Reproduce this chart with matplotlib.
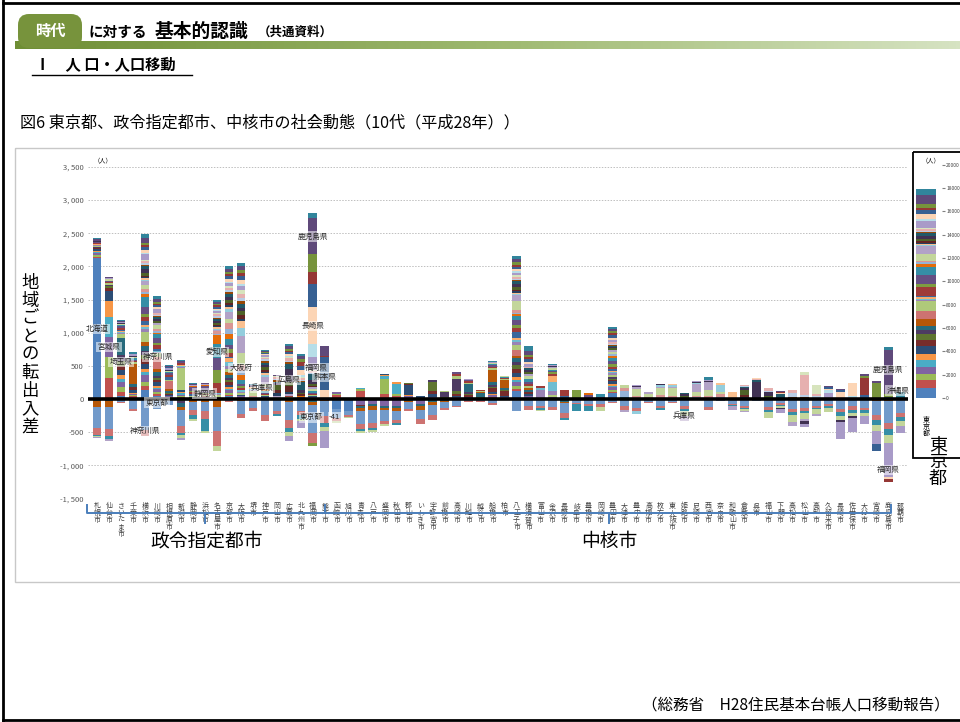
import numpy as np
import matplotlib
matplotlib.use("Agg")
import matplotlib.pyplot as plt
from matplotlib.patches import Rectangle, FancyBboxPatch
from matplotlib.colors import LinearSegmentedColormap

plt.rcParams['font.family'] = ['Noto Sans CJK JP', 'DejaVu Sans']

# 都道府県（積み上げの順番）
prefectures = ["北海道", "青森", "岩手", "宮城", "秋田", "山形", "福島", "茨城", "栃木", "群馬",
               "埼玉", "千葉", "東京", "神奈川", "新潟", "富山", "石川", "福井", "山梨", "長野",
               "岐阜", "静岡", "愛知", "三重", "滋賀", "京都", "大阪", "兵庫", "奈良", "和歌山",
               "鳥取", "島根", "岡山", "広島", "山口", "徳島", "香川", "愛媛", "高知", "福岡",
               "佐賀", "長崎", "熊本", "大分", "宮崎", "鹿児島", "沖縄"]

seirei = ["札幌市", "仙台市", "さいたま市", "千葉市", "横浜市", "川崎市", "相模原市", "新潟市",
          "静岡市", "浜松市", "名古屋市", "京都市", "大阪市", "堺市", "神戸市", "岡山市",
          "広島市", "北九州市", "福岡市", "熊本市"]
chukaku = ["函館市", "旭川市", "青森市", "八戸市", "盛岡市", "秋田市", "郡山市", "いわき市",
           "宇都宮市", "前橋市", "高崎市", "川越市", "越谷市", "船橋市", "柏市", "八王子市",
           "横須賀市", "富山市", "金沢市", "長野市", "岐阜市", "豊橋市", "岡崎市", "豊田市",
           "大津市", "豊中市", "高槻市", "枚方市", "東大阪市", "姫路市", "尼崎市", "西宮市",
           "奈良市", "和歌山市", "倉敷市", "呉市", "福山市", "下関市", "高松市", "松山市",
           "高知市", "久留米市", "長崎市", "佐世保市", "大分市", "宮崎市", "鹿児島市", "那覇市"]
cities = seirei + chukaku

# 転入超過（都道府県番号: 人）
pos_segments = [
    {0: 2120, 1: 25, 2: 20, 3: 35, 4: 20, 5: 15, 6: 20, 7: 15, 8: 10, 9: 15, 14: 20, 15: 15, 17: 15, 19: 15, 21: 15, 33: 15, 45: 25, 46: 15},
    {1: 320, 2: 315, 3: 300, 4: 300, 5: 250, 6: 150, 7: 40, 8: 25, 9: 15, 14: 30, 15: 10, 19: 15, 21: 15, 26: 20, 33: 10, 39: 15, 45: 15},
    {0: 40, 1: 60, 2: 80, 3: 70, 4: 50, 5: 60, 6: 70, 7: 60, 8: 80, 9: 90, 10: 260, 14: 60, 15: 20, 16: 15, 17: 10, 18: 15, 19: 30, 21: 30, 22: 15, 26: 15, 33: 10, 39: 15, 45: 15, 46: 15},
    {0: 20, 1: 20, 2: 15, 3: 20, 5: 15, 6: 40, 7: 50, 10: 40, 11: 300, 14: 30, 19: 20, 21: 20, 22: 25, 26: 25, 33: 15, 39: 25, 46: 30},
    {0: 140, 1: 60, 2: 60, 3: 100, 4: 40, 5: 50, 6: 80, 7: 70, 8: 60, 9: 60, 10: 80, 11: 60, 14: 150, 15: 40, 16: 40, 17: 30, 18: 50, 19: 60, 20: 50, 21: 100, 22: 160, 23: 40, 24: 30, 25: 50, 26: 60, 27: 60, 28: 20, 29: 20, 30: 20, 31: 20, 32: 40, 33: 60, 34: 40, 35: 20, 36: 30, 37: 30, 38: 20, 39: 80, 40: 20, 41: 40, 42: 50, 43: 30, 44: 40, 45: 70, 46: 60},
    {0: 40, 1: 30, 2: 30, 3: 50, 4: 20, 5: 30, 6: 50, 7: 40, 8: 30, 9: 30, 10: 60, 11: 40, 13: 180, 14: 60, 15: 20, 16: 20, 18: 30, 19: 50, 20: 30, 21: 80, 22: 60, 23: 20, 24: 20, 25: 30, 26: 60, 27: 40, 32: 20, 33: 40, 34: 20, 35: 20, 36: 20, 37: 20, 39: 60, 41: 30, 42: 30, 43: 20, 44: 30, 45: 50, 46: 50},
    {0: 15, 2: 10, 3: 20, 6: 15, 7: 20, 8: 15, 10: 30, 11: 25, 13: 120, 14: 20, 18: 40, 19: 25, 21: 30, 22: 20, 26: 20, 33: 15, 39: 20, 42: 15, 45: 20, 46: 15},
    {0: 10, 1: 15, 2: 15, 3: 25, 4: 20, 5: 20, 6: 30, 14: 330, 15: 20, 16: 15, 17: 10, 19: 30, 21: 10, 33: 10, 45: 10, 46: 15},
    {0: 10, 3: 10, 6: 10, 14: 10, 15: 10, 18: 25, 19: 30, 20: 20, 21: 60, 23: 15, 27: 15, 45: 15, 46: 15},
    {0: 10, 3: 15, 6: 10, 7: 10, 14: 10, 19: 20, 20: 15, 21: 100, 23: 20, 27: 10, 33: 10, 45: 10, 46: 5},
    {0: 15, 3: 10, 6: 10, 14: 20, 15: 15, 16: 15, 19: 150, 20: 200, 21: 175, 22: 225, 23: 125, 24: 20, 25: 40, 27: 20, 28: 20, 29: 20, 30: 15, 31: 15, 32: 30, 33: 40, 34: 30, 35: 15, 36: 25, 37: 25, 38: 15, 39: 30, 40: 15, 41: 25, 42: 30, 43: 20, 44: 25, 45: 30, 46: 30},
    {0: 40, 1: 25, 2: 25, 3: 40, 4: 20, 5: 25, 6: 40, 7: 40, 8: 30, 9: 30, 10: 50, 11: 40, 14: 50, 15: 40, 16: 60, 17: 60, 18: 20, 19: 60, 20: 60, 21: 55, 22: 90, 23: 80, 24: 70, 25: 90, 26: 70, 27: 100, 28: 40, 29: 40, 30: 30, 31: 30, 32: 50, 33: 40, 34: 40, 35: 30, 36: 30, 37: 40, 38: 20, 39: 50, 40: 20, 41: 40, 42: 40, 43: 30, 44: 30, 45: 50, 46: 50},
    {0: 20, 3: 20, 6: 20, 14: 30, 15: 20, 16: 20, 19: 30, 20: 30, 21: 40, 22: 50, 23: 80, 24: 60, 25: 90, 26: 190, 27: 250, 28: 120, 29: 110, 30: 30, 31: 60, 32: 50, 33: 50, 34: 60, 35: 50, 36: 50, 37: 50, 38: 60, 39: 60, 40: 40, 41: 60, 42: 50, 43: 50, 44: 40, 45: 70, 46: 35},
    {0: 5, 22: 10, 24: 10, 25: 15, 26: 80, 27: 20, 28: 15, 29: 25, 33: 10, 39: 10, 45: 10, 46: 10},
    {0: 15, 3: 15, 6: 15, 14: 15, 19: 15, 21: 20, 22: 30, 23: 20, 24: 20, 25: 20, 26: 40, 27: 110, 28: 20, 29: 30, 30: 25, 31: 25, 32: 40, 33: 40, 34: 30, 35: 30, 36: 20, 37: 25, 38: 15, 39: 30, 41: 15, 42: 15, 44: 10, 45: 20, 46: 20},
    {0: 10, 26: 10, 27: 20, 29: 10, 30: 40, 31: 40, 32: 80, 33: 30, 34: 20, 35: 20, 36: 25, 37: 20, 38: 15, 41: 10, 45: 10},
    {0: 10, 3: 10, 14: 10, 19: 10, 21: 10, 27: 20, 30: 40, 31: 80, 32: 60, 33: 200, 34: 80, 35: 20, 36: 25, 37: 40, 38: 20, 40: 10, 41: 30, 42: 30, 43: 25, 44: 25, 45: 40, 46: 30},
    {0: 10, 14: 10, 21: 10, 23: 10, 27: 10, 31: 20, 32: 20, 33: 40, 34: 120, 35: 15, 36: 20, 37: 30, 38: 20, 40: 30, 41: 70, 42: 60, 43: 60, 44: 40, 45: 50, 46: 30},
    {0: 20, 3: 15, 6: 10, 14: 15, 19: 10, 21: 15, 22: 30, 26: 40, 27: 25, 31: 20, 32: 30, 33: 60, 34: 80, 36: 20, 37: 25, 38: 20, 39: 200, 40: 200, 41: 550, 42: 350, 43: 175, 44: 275, 45: 550, 46: 75},
    {27: 10, 41: 125, 42: 500, 43: 10, 44: 10, 45: 140},
    {1: 60, 2: 20, 3: 20},
    {2: 5, 3: 5},
    {0: 10, 1: 110, 2: 30, 4: 15},
    {2: 10},
    {0: 10, 1: 60, 2: 230, 4: 40, 5: 20, 6: 20},
    {0: 10, 1: 30, 2: 30, 4: 150, 5: 30},
    {0: 10, 3: 30, 5: 20, 6: 150, 7: 15, 8: 15},
    {6: 40, 7: 10},
    {0: 10, 3: 20, 6: 40, 7: 50, 8: 140, 9: 30},
    {6: 10, 8: 15, 9: 80, 14: 10, 19: 10},
    {0: 15, 3: 15, 6: 20, 7: 30, 8: 40, 9: 180, 14: 40, 19: 40, 21: 20},
    {0: 10, 3: 10, 6: 15, 7: 20, 8: 20, 9: 30, 10: 120, 14: 20, 19: 20, 21: 15, 26: 10, 39: 10},
    {7: 20, 8: 15, 10: 60, 11: 15, 14: 10, 19: 10},
    {0: 15, 1: 10, 2: 10, 3: 20, 5: 15, 6: 30, 7: 60, 8: 25, 9: 20, 10: 50, 11: 180, 14: 30, 19: 20, 21: 20, 22: 15, 26: 15, 39: 15, 46: 15},
    {0: 10, 3: 15, 6: 20, 7: 70, 8: 15, 10: 40, 11: 120, 14: 15, 19: 15, 22: 10, 26: 10, 46: 10},
    {0: 115, 1: 40, 2: 40, 3: 60, 4: 30, 5: 40, 6: 70, 7: 60, 8: 50, 9: 50, 10: 60, 11: 40, 13: 80, 14: 80, 15: 40, 16: 40, 17: 30, 18: 80, 19: 70, 20: 40, 21: 70, 22: 60, 23: 30, 24: 20, 25: 40, 26: 150, 27: 80, 28: 20, 29: 20, 30: 20, 31: 20, 32: 40, 33: 50, 34: 40, 35: 20, 36: 20, 37: 30, 38: 20, 39: 40, 40: 20, 41: 30, 42: 40, 43: 30, 44: 40, 45: 50, 46: 40},
    {0: 30, 3: 20, 6: 25, 7: 25, 10: 30, 11: 30, 14: 30, 19: 30, 21: 40, 22: 40, 26: 50, 27: 30, 32: 20, 33: 30, 34: 30, 37: 20, 39: 50, 41: 30, 42: 40, 43: 30, 44: 40, 45: 60, 46: 70},
    {14: 20, 15: 120, 16: 30, 19: 20},
    {0: 15, 3: 15, 14: 30, 15: 60, 16: 130, 17: 100, 19: 30, 20: 20, 21: 20, 22: 20, 26: 20, 27: 15, 33: 15, 39: 15, 46: 25},
    {14: 20, 18: 30, 19: 80},
    {19: 20, 20: 120},
    {21: 60, 23: 30},
    {21: 35, 22: 40},
    {0: 85, 1: 20, 2: 30, 3: 40, 4: 20, 5: 30, 6: 40, 7: 20, 8: 20, 9: 20, 14: 40, 15: 20, 16: 20, 17: 20, 18: 20, 19: 40, 20: 40, 21: 50, 22: 40, 23: 40, 24: 20, 26: 30, 27: 30, 31: 10, 32: 30, 33: 15, 34: 15, 35: 10, 36: 20, 37: 20, 39: 40, 41: 25, 42: 40, 43: 30, 44: 30, 45: 40, 46: 20},
    {20: 15, 22: 20, 24: 80, 25: 50, 26: 40},
    {22: 20, 25: 30, 26: 100, 27: 30, 33: 15, 39: 20},
    {25: 30, 26: 50, 27: 30},
    {25: 60, 26: 100, 27: 20, 28: 25, 33: 20},
    {24: 20, 25: 30, 26: 110, 27: 20, 28: 25, 29: 20},
    {30: 15, 32: 35, 33: 20, 34: 15},
    {22: 15, 24: 15, 25: 20, 26: 60, 27: 120, 28: 15, 33: 15, 39: 15},
    {22: 20, 25: 30, 26: 80, 27: 120, 33: 20, 39: 20, 46: 40},
    {22: 15, 24: 15, 25: 50, 26: 30, 28: 100, 29: 30},
    {26: 20, 29: 90},
    {30: 30, 31: 30, 32: 80, 33: 25, 34: 20, 36: 15, 37: 15},
    {33: 250, 34: 30, 37: 20, 41: 15},
    {32: 40, 33: 60, 36: 25, 37: 40},
    {34: 70, 41: 15, 42: 10, 43: 15, 45: 15},
    {35: 30, 36: 60, 37: 40},
    {35: 25, 36: 40, 37: 300, 38: 40},
    {35: 20, 36: 30, 37: 25, 38: 140},
    {33: 15, 39: 80, 40: 40, 41: 20, 42: 20, 45: 15},
    {40: 20, 41: 90, 42: 20, 45: 20},
    {40: 40, 41: 200},
    {41: 20, 42: 40, 43: 250, 44: 40, 45: 25},
    {43: 15, 44: 220, 45: 40},
    {42: 35, 44: 40, 45: 665, 46: 40},
    {46: 100},
]

# 転出超過（都道府県番号: 人）
neg_segments = [
    {10: -30, 11: -90, 12: -320, 13: -100, 22: -25, 26: -15, 39: -10},
    {10: -30, 11: -90, 12: -340, 13: -100, 22: -50, 27: -30},
    {12: -40, 13: -25},
    {12: -150, 13: -35},
    {12: -465, 13: -95},
    {12: -150},
    {12: -90},
    {7: -15, 8: -20, 9: -30, 10: -60, 11: -40, 12: -250, 13: -100, 22: -30, 26: -40, 39: -40},
    {10: -20, 11: -20, 12: -120, 13: -90, 22: -60, 26: -20, 39: -10},
    {10: -20, 11: -30, 12: -130, 13: -120, 22: -180, 26: -30},
    {10: -15, 11: -100, 12: -375, 13: -225, 26: -75},
    {12: -30, 13: -10},
    {11: -30, 12: -200, 13: -60},
    {12: -130, 13: -60},
    {12: -250, 13: -90},
    {11: -20, 12: -160, 13: -50, 22: -35},
    {10: -20, 11: -30, 12: -270, 13: -120, 22: -60, 26: -60, 39: -80},
    {11: -20, 12: -170, 13: -60, 22: -50, 26: -40, 39: -100},
    {10: -50, 11: -40, 12: -420, 13: -150, 20: -45},
    {11: -30, 12: -230, 13: -100, 22: -60, 26: -70, 39: -250},
    {0: -150, 12: -140, 13: -40, 26: -30},
    {0: -180, 12: -70, 13: -20, 26: -15},
    {3: -90, 7: -20, 10: -30, 11: -40, 12: -200, 13: -70, 22: -30, 26: -30},
    {3: -80, 10: -30, 11: -50, 12: -200, 13: -80, 22: -35, 26: -30},
    {3: -100, 10: -30, 11: -40, 12: -160, 13: -55, 26: -30},
    {3: -110, 10: -30, 11: -40, 12: -140, 13: -50, 22: -20},
    {10: -25, 11: -20, 12: -110, 13: -35},
    {3: -70, 10: -40, 11: -50, 12: -150, 13: -65},
    {10: -50, 11: -40, 12: -160, 13: -65},
    {10: -30, 11: -15, 12: -90, 13: -30},
    {10: -20, 12: -80, 13: -20},
    {12: -30, 13: -10},
    {12: -30, 13: -10},
    {12: -60, 13: -25},
    {12: -20},
    {12: -190},
    {12: -110, 13: -60},
    {10: -20, 12: -90, 13: -30, 22: -30, 26: -20},
    {12: -120, 13: -50},
    {10: -40, 11: -20, 12: -150, 13: -80, 22: -35},
    {12: -60, 13: -20, 22: -100, 26: -10},
    {12: -70, 13: -30, 22: -90},
    {12: -80, 13: -40, 26: -70},
    {12: -40, 13: -20},
    {12: -110, 13: -50, 27: -40},
    {12: -130, 13: -50, 28: -45},
    {12: -40, 13: -20},
    {12: -100, 13: -40, 22: -20},
    {12: -40, 13: -20},
    {12: -110, 13: -40, 22: -25, 26: -90, 27: -70},
    {12: -20},
    {12: -120, 13: -40},
    {12: -25, 13: -10},
    {12: -70, 13: -25, 22: -15, 27: -50},
    {12: -100, 13: -30, 22: -20, 26: -30, 27: -20},
    {12: -25, 26: -10},
    {12: -120, 13: -40, 22: -40, 26: -85},
    {12: -60, 13: -25, 22: -25, 26: -20, 33: -20, 39: -60},
    {12: -150, 13: -50, 22: -40, 26: -110, 27: -60},
    {12: -140, 13: -50, 22: -30, 26: -90, 27: -25, 33: -40, 39: -50},
    {12: -100, 13: -30, 22: -20, 26: -80, 27: -30},
    {12: -80, 13: -30, 22: -30, 26: -55},
    {11: -20, 12: -130, 13: -50, 22: -60, 26: -60, 33: -30, 39: -260},
    {12: -110, 13: -50, 22: -50, 26: -50, 33: -30, 39: -210},
    {11: -20, 12: -110, 13: -40, 22: -40, 26: -50, 39: -125},
    {11: -30, 12: -220, 13: -70, 22: -70, 26: -90, 39: -200, 42: -105},
    {11: -30, 12: -330, 13: -90, 22: -90, 26: -120, 39: -520, 41: -30, 43: -50},
    {11: -20, 12: -200, 13: -60, 22: -50, 26: -80, 39: -110},
]

# 東京都（右側の小さいグラフ）
tokyo_values = [860, 715, 485, 600, 630, 485, 655, 570, 515, 345,
                285, 655, 0, 630, 860, 140, 90, 120, 140, 770,
                230, 770, 715, 230, 140, 90, 630, 655, 115, 85,
                115, 115, 170, 315, 200, 115, 115, 140, 85, 630,
                140, 430, 345, 170, 345, 800, 485]

yticks = list(range(-1500, 3501, 500))
tokyo_ticks = list(range(0, 20001, 2000))

# グラフ上の都道府県ラベル (文字, 都市の位置, 値)
annotations = [
    ("北海道", 0, 1055), ("宮城県", 1, 785), ("埼玉県", 2, 560), ("神奈川県", 5.1, 635),
    ("東京都", 5, -55), ("神奈川県", 4, -490), ("静岡県", 9, 80), ("愛知県", 10, 710),
    ("大阪府", 12, 470), ("兵庫県", 13.8, 170), ("広島県", 16, 290), ("鹿児島県", 18, 2450),
    ("長崎県", 18, 1100), ("福岡県", 18.3, 470), ("熊本県", 19, 335), ("東京都", 17.9, -280),
    ("-41", 19.8, -280), ("兵庫県", 49, -265), ("鹿児島県", 66, 440), ("沖縄県", 66.8, 125),
    ("福岡県", 66, -1075),
]

palette = ['#4F81BD', '#C0504D', '#9BBB59', '#8064A2', '#4BACC6', '#F79646',
           '#2C4D75', '#772C2A', '#5F7530', '#4D3B62', '#276A7C', '#B65708',
           '#729ACA', '#CD7371', '#AFC97A', '#9983B5', '#6FBDD1', '#F9AB6B',
           '#3A679C', '#9F3B38', '#7E9D40', '#664F83', '#358EA6', '#E46C0A',
           '#95B3D7', '#D99694', '#C3D69B', '#B2A2C7', '#93CDDD', '#FAC090',
           '#254061', '#632523', '#4F6228', '#403152', '#215968', '#974806',
           '#B9CDE5', '#E6B0AF', '#D7E4BD', '#A99BC8', '#B7DEE8', '#FCD5B5',
           '#376092', '#953735', '#77933C', '#5F497A', '#31859C']

W, H = 960, 722


def px(x0, y0, x1, y1):
    return [x0 / W, 1 - y1 / H, (x1 - x0) / W, (y1 - y0) / H]


fig = plt.figure(figsize=(W / 100, H / 100), dpi=100)

# 背景（ピクセル座標）
bg = fig.add_axes([0, 0, 1, 1], zorder=0)
bg.axis('off')
grad = LinearSegmentedColormap.from_list('g', ['#6E8E34', '#9DB86E', '#D6E3C2'])
bg.imshow(np.linspace(0, 1, 256)[None, :], extent=(15, 960, 49, 41), cmap=grad, aspect='auto')
bg.set_xlim(0, W)
bg.set_ylim(H, 0)

bg.add_patch(FancyBboxPatch((18, 14), 64, 34, boxstyle="round,pad=0,rounding_size=11",
                            fc='#77933C', ec='none'))
bg.text(50, 31, "時代", color='white', fontsize=11, fontweight='bold', ha='center', va='center')
bg.text(88, 32, "に対する", fontsize=10.5, fontweight='bold', va='center')
bg.text(155, 31, "基本的認識", fontsize=13.5, fontweight='bold', va='center')
bg.text(258, 32, "（共通資料）", fontsize=9, fontweight='bold', va='center')
bg.text(35, 65, "Ⅰ　人 口・人口移動", fontsize=11, fontweight='bold', va='center')
bg.plot([32, 192], [75, 75], color='black', lw=1)
bg.text(20, 123, "図6 東京都、政令指定都市、中核市の社会動態（10代（平成28年））", fontsize=11.6, va='center')
bg.text(950, 706, "（総務省　H28住民基本台帳人口移動報告）", fontsize=11.2, ha='right', va='center')

# 枠線
bg.plot([3, 3], [0, H], color='black', lw=2)
bg.plot([3, W], [3, 3], color='black', lw=2)
bg.plot([3, W], [720, 720], color='black', lw=2)
bg.add_patch(Rectangle((15, 148), 960, 434, fill=False, ec='#C8C8C8', lw=1))
bg.add_patch(Rectangle((912.5, 152), 60, 306, fill=False, ec='black', lw=1.3))

bg.text(30, 355, "\n".join("地域ごとの転出入差"), ha='center', va='center', fontsize=12.5, linespacing=1.0)
bg.text(103, 160, "（人）", fontsize=4.5, ha='center', va='center')
bg.text(931, 160, "（人）", fontsize=4.5, ha='center', va='center')
bg.text(938, 437, "東\n京\n都", fontsize=13, ha='center', va='top', linespacing=0.88)

# メインのグラフ
ax = fig.add_axes(px(88, 167, 908, 498.3), zorder=2)
ax.patch.set_alpha(0)
x = np.arange(len(cities))
pos = np.zeros((len(prefectures), len(cities)))
neg = np.zeros((len(prefectures), len(cities)))
for j, d in enumerate(pos_segments):
    for k, v in d.items():
        pos[k, j] = v
for j, d in enumerate(neg_segments):
    for k, v in d.items():
        neg[k, j] = v

bottom = np.zeros(len(cities))
for k in range(len(prefectures)):
    ax.bar(x, pos[k], width=0.72, bottom=bottom, color=palette[k], lw=0, zorder=2)
    bottom += pos[k]
bottom = np.zeros(len(cities))
for k in range(len(prefectures)):
    ax.bar(x, neg[k], width=0.72, bottom=bottom, color=palette[k], lw=0, zorder=2)
    bottom += neg[k]

for y in yticks:
    if y != 0:
        ax.axhline(y, color='#BFBFBF', lw=0.7, ls=(0, (1.5, 1.5)), zorder=0)
ax.axhline(0, color='black', lw=2.6, zorder=5)

ax.set_xlim(-0.75, -0.75 + 820 / 11.99)
ax.set_ylim(-1500, 3500)
ax.set_yticks(yticks)
ax.set_yticklabels([f"{v:,}".replace(",", ", ") for v in yticks])
ax.tick_params(axis='y', length=0, pad=3, labelsize=5.5, labelcolor='#595959')
ax.set_xticks(x)
ax.set_xticklabels(["\n".join(c) for c in cities], fontsize=5.0, linespacing=0.8, color='#404040')
ax.tick_params(axis='x', length=0, pad=3)
for s in ax.spines.values():
    s.set_visible(False)

for txt, xi, yv in annotations:
    ax.text(xi, yv, txt, fontsize=5.5, ha='center', va='center', color='#262626', zorder=6,
            bbox=dict(boxstyle='square,pad=0.15', fc='white', ec='none', alpha=0.55))

# 政令指定都市・中核市の括弧
trans = ax.get_xaxis_transform()


def fy(ypx):
    return (498.3 - ypx) / 331.3


blue = '#4A7EBB'
ax.plot([-0.8, -0.8, 66.2, 66.2], [fy(505), fy(513), fy(513), fy(505)], transform=trans,
        clip_on=False, color=blue, lw=1.4)
ax.plot([19, 19], [fy(505), fy(513)], transform=trans, clip_on=False, color=blue, lw=1.4)
for xm in [9, 42.7]:
    ax.plot([xm, xm], [fy(513), fy(523)], transform=trans, clip_on=False, color=blue, lw=1.4)
ax.text(9.1, fy(541), "政令指定都市", transform=trans, ha='center', va='center', fontsize=13.5)
ax.text(42.7, fy(541), "中核市", transform=trans, ha='center', va='center', fontsize=13.5)

# 東京都
axt = fig.add_axes(px(910, 164.7, 942, 398), zorder=2)
axt.patch.set_alpha(0)
bottom = 0
for k in range(len(prefectures)):
    axt.bar([0], [tokyo_values[k]], width=0.65, bottom=bottom, color=palette[k], lw=0)
    bottom += tokyo_values[k]
axt.set_xlim(-0.5, 0.5)
axt.set_ylim(0, 20000)
axt.yaxis.tick_right()
axt.set_yticks(tokyo_ticks)
axt.set_yticklabels([str(v) for v in tokyo_ticks])
axt.tick_params(axis='y', length=2, pad=1, labelsize=3.5, color='#808080', labelcolor='#404040')
axt.set_xticks([0])
axt.set_xticklabels(["\n".join("東京都")], fontsize=5, linespacing=0.85)
axt.tick_params(axis='x', length=0, pad=13)
for s in axt.spines.values():
    s.set_visible(False)

fig.savefig("out.png", dpi=100)
